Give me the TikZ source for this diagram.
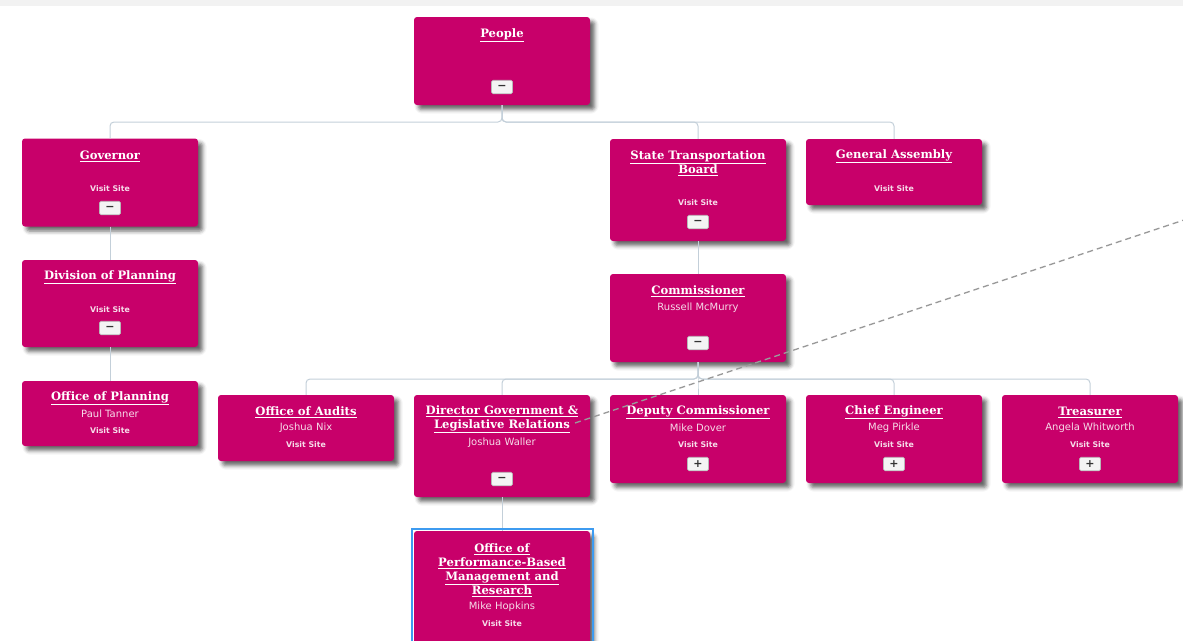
\documentclass[tikz,border=0pt]{standalone}
\usepackage{fontspec}
\setmainfont{DejaVu Sans}
\newfontfamily\tserif{DejaVu Serif}
\usetikzlibrary{shadows.blur}
\definecolor{boxc}{HTML}{C8006A}
\definecolor{linec}{HTML}{C3CFD9}
\definecolor{namec}{HTML}{F6DCE9}
\definecolor{btnc}{HTML}{F4F4F4}
\definecolor{btnd}{HTML}{B8B8B8}
\definecolor{btnt}{HTML}{333333}
\definecolor{selc}{HTML}{3D9BF0}
\definecolor{topc}{HTML}{F2F2F2}
\definecolor{dashc}{HTML}{9A9A9A}
\tikzset{
 box/.style={fill=boxc, rounded corners=3pt, minimum width=176pt, inner sep=0pt,
   blur shadow={shadow xshift=4.5pt, shadow yshift=-4.5pt, shadow blur radius=4pt, shadow opacity=60}},
 ttl/.style={font=\tserif\bfseries\fontsize{11.6}{14}\selectfont, text=white, align=center, inner sep=0pt, yshift=-1.5pt},
 nm/.style={font=\fontsize{10}{11}\selectfont, text=namec, inner sep=0pt},
 vs/.style={font=\bfseries\fontsize{7.8}{9}\selectfont, text=namec, inner sep=0pt},
 btn/.style={fill=btnc, draw=btnd, line width=0.6pt, rounded corners=1.5pt, minimum width=21pt,
   minimum height=13.5pt, inner sep=0pt, font=\bfseries\fontsize{11}{11}\selectfont, text=btnt},
 conn/.style={draw=linec, line width=1pt, rounded corners=4pt},
 dashln/.style={draw=dashc, dash pattern=on 6pt off 4pt, line width=1.3pt},
 selbox/.style={draw=selc, line width=2pt},
}
\begin{document}
\begin{tikzpicture}[x=1pt,y=-1pt]
\useasboundingbox (0,0) rectangle (1183,640);
\clip (0,0) rectangle (1183,640);
\fill[topc] (0,0) rectangle (1183,6);
% coordinates for buses
\coordinate (busA) at (0,122);
\coordinate (busB) at (0,379);
% boxes
\node[box, minimum height=88pt] (people) at (502,61) {};
\node[box, minimum height=88pt] (gov) at (110,182.5) {};
\node[box, minimum height=102pt] (stb) at (698,190) {};
\node[box, minimum height=66pt] (ga) at (894,172) {};
\node[box, minimum height=87pt] (dop) at (110,303.5) {};
\node[box, minimum height=88pt] (comm) at (698,318) {};
\node[box, minimum height=65pt] (oop) at (110,413.5) {};
\node[box, minimum height=66pt] (ooa) at (306,428) {};
\node[box, minimum height=102pt] (dir) at (502,446) {};
\node[box, minimum height=88pt] (dc) at (698,439) {};
\node[box, minimum height=88pt] (ce) at (894,439) {};
\node[box, minimum height=88pt] (tr) at (1090,439) {};
\node[box, minimum height=130pt] (opb) at (502,596) {};
% connectors
\draw[conn] (people.south) -- (people.south |- busA) -| (gov.north);
\draw[conn] (people.south) -- (people.south |- busA) -| (stb.north);
\draw[conn] (people.south) -- (people.south |- busA) -| (ga.north);
\draw[conn] (gov.south) -- (dop.north);
\draw[conn] (dop.south) -- (oop.north);
\draw[conn] (stb.south) -- (comm.north);
\draw[conn] (comm.south) -- (comm.south |- busB) -| (ooa.north);
\draw[conn] (comm.south) -- (comm.south |- busB) -| (dir.north);
\draw[conn] (comm.south) -- (comm.south |- busB) -| (dc.north);
\draw[conn] (comm.south) -- (comm.south |- busB) -| (ce.north);
\draw[conn] (comm.south) -- (comm.south |- busB) -| (tr.north);
\draw[conn] (dir.south) -- (opb.north);
% selection border
\coordinate (selA) at (411.5,529);
\coordinate (selB) at (592.5,660);
\draw[selbox] (selA) rectangle (selB);
% People
\node[ttl] (peoplet) at (502,34) {\underline{People}};
\node[btn] (peopleb) at (502,87) {−};
% Governor
\node[ttl] (govt) at (110,155) {\underline{Governor}};
\node[vs] (govv) at (110,189) {Visit Site};
\node[btn] (govb) at (110,208) {−};
% STB
\node[ttl] (stbt) at (698,162) {\underline{State Transportation}\\\underline{Board}};
\node[vs] (stbv) at (698,203) {Visit Site};
\node[btn] (stbb) at (698,222) {−};
% GA
\node[ttl] (gat) at (894,155) {\underline{General Assembly}};
\node[vs] (gav) at (894,189) {Visit Site};
% DoP
\node[ttl] (dopt) at (110,276) {\underline{Division of Planning}};
\node[vs] (dopv) at (110,310) {Visit Site};
\node[btn] (dopb) at (110,328) {−};
% Commissioner
\node[ttl] (commt) at (698,290) {\underline{Commissioner}};
\node[nm] (commn) at (698,308) {Russell McMurry};
\node[btn] (commb) at (698,343) {−};
% OoP
\node[ttl] (oopt) at (110,397) {\underline{Office of Planning}};
\node[nm] (oopn) at (110,414) {Paul Tanner};
\node[vs] (oopv) at (110,431) {Visit Site};
% OoA
\node[ttl] (ooat) at (306,411) {\underline{Office of Audits}};
\node[nm] (ooan) at (306,428) {Joshua Nix};
\node[vs] (ooav) at (306,445) {Visit Site};
% Director
\node[ttl] (dirt) at (502,418) {\underline{Director Government \&}\\\underline{Legislative Relations}};
\node[nm] (dirn) at (502,443) {Joshua Waller};
\node[btn] (dirb) at (502,479) {−};
% DC
\node[ttl] (dct) at (698,411) {\underline{Deputy Commissioner}};
\node[nm] (dcn) at (698,428) {Mike Dover};
\node[vs] (dcv) at (698,445) {Visit Site};
\node[btn] (dcb) at (698,464) {+};
% CE
\node[ttl] (cet) at (894,411) {\underline{Chief Engineer}};
\node[nm] (cen) at (894,428) {Meg Pirkle};
\node[vs] (cev) at (894,445) {Visit Site};
\node[btn] (ceb) at (894,464) {+};
% Treasurer
\node[ttl] (trt) at (1090,411) {\underline{Treasurer}};
\node[nm] (trn) at (1090,428) {Angela Whitworth};
\node[vs] (trv) at (1090,445) {Visit Site};
\node[btn] (trb) at (1090,464) {+};
% OPBMR
\node[ttl] (opbt) at (502,568.5) {\underline{Office of}\\\underline{Performance-Based}\\\underline{Management and}\\\underline{Research}};
\node[nm] (opbn) at (502,607) {Mike Hopkins};
\node[vs] (opbv) at (502,624) {Visit Site};
% dashed line
\coordinate (dA) at (575,423);
\coordinate (dB) at (1190,218);
\draw[dashln] (dA) -- (dB);
\end{tikzpicture}
\end{document}
